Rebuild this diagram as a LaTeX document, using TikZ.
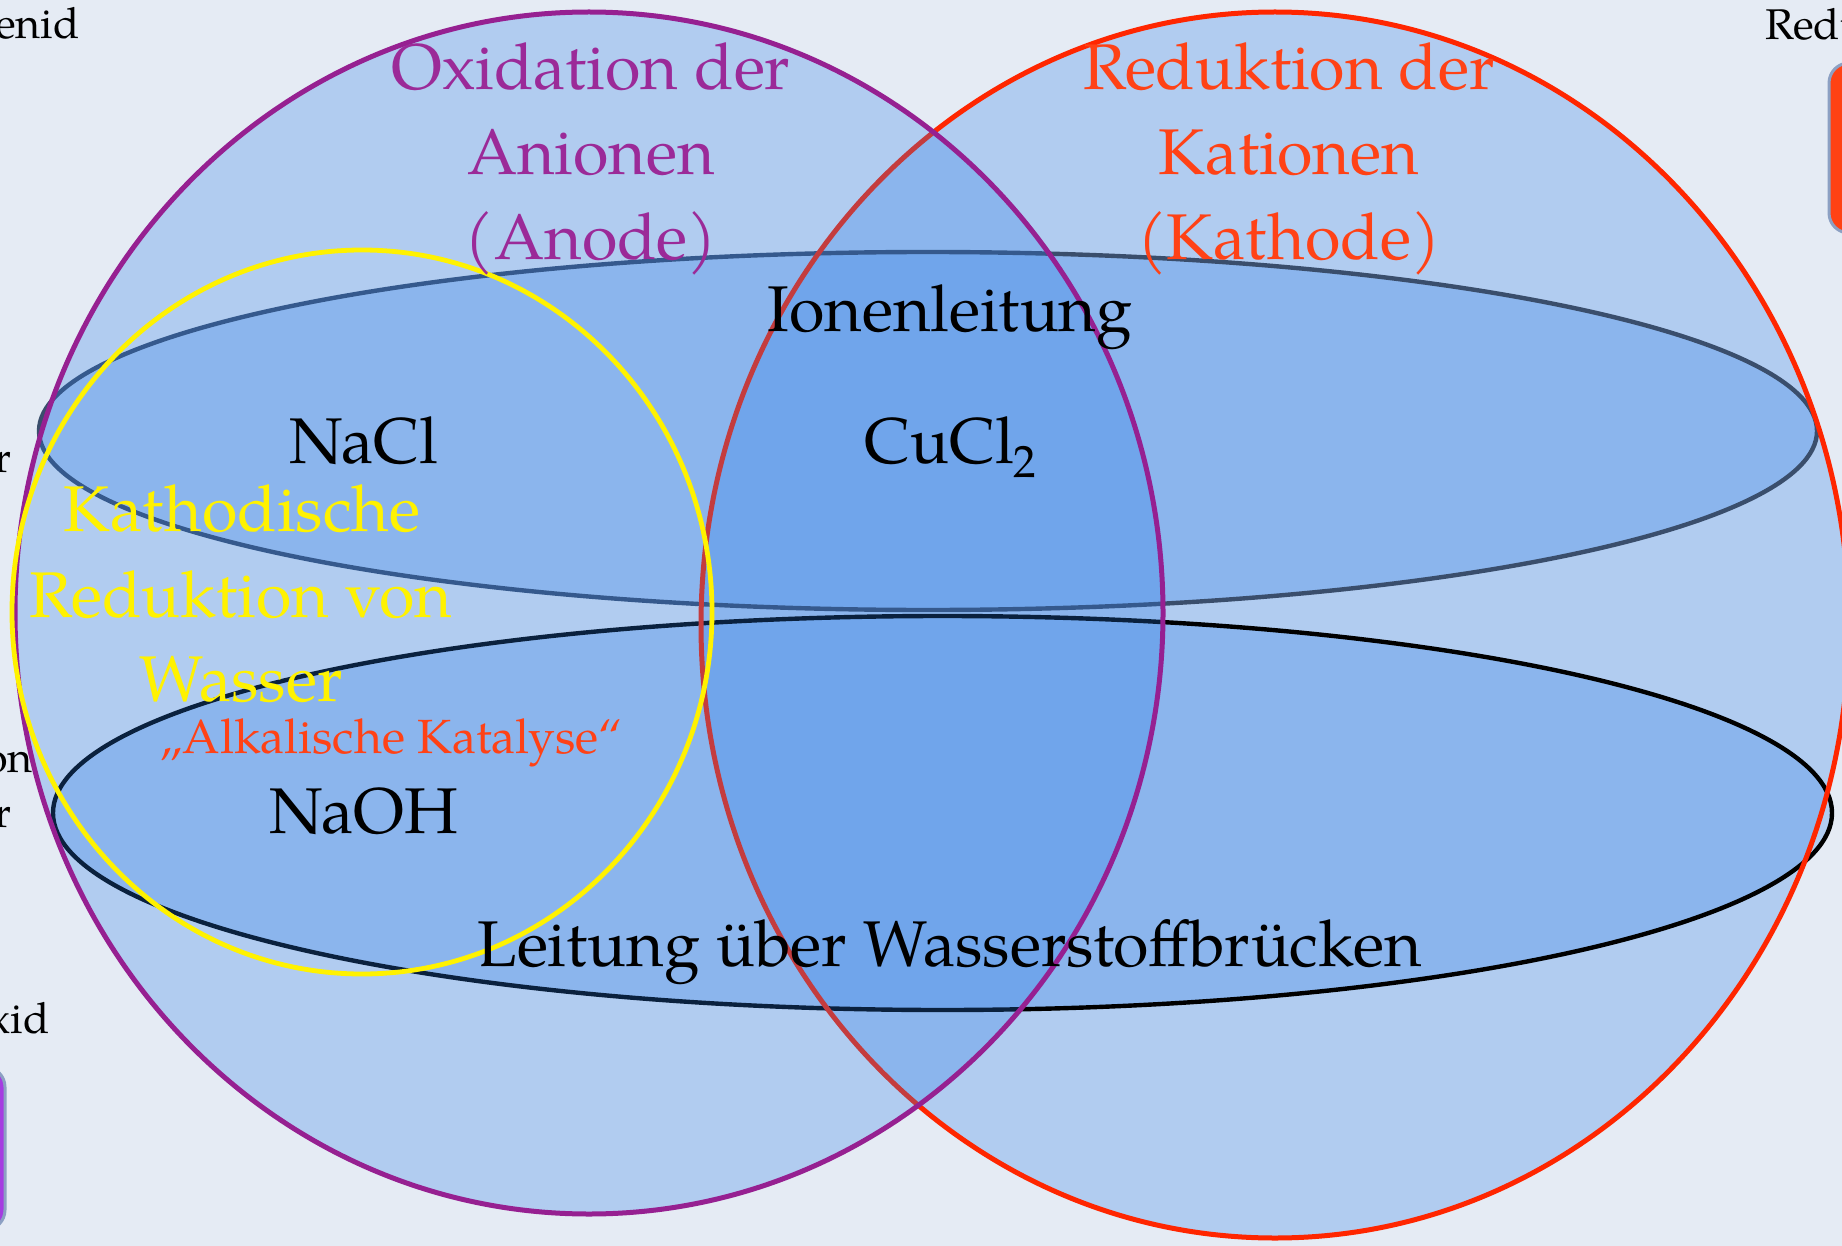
\documentclass[tikz,border=0pt]{standalone}
\usepackage{fontspec}
\setmainfont{TeX Gyre Pagella}
\definecolor{bgcol}{RGB}{229,235,244}
\definecolor{blobcol}{RGB}{40,122,230}
\definecolor{purplecol}{RGB}{150,32,145}
\definecolor{purpletext}{RGB}{155,42,152}
\definecolor{redcol}{RGB}{255,38,0}
\definecolor{redtext}{RGB}{255,66,22}
\definecolor{ionline}{RGB}{58,78,108}
\definecolor{boxedge}{RGB}{140,160,195}
\definecolor{boxred}{RGB}{255,66,20}
\definecolor{boxpurple}{RGB}{165,60,225}
\newcommand\fBig{\fontsize{32.3}{42.5}\selectfont}
\newcommand\fMid{\fontsize{24}{30}\selectfont}
\newcommand\fSide{\fontsize{21.5}{26}\selectfont}
\tikzset{
  blob/.style={fill=blobcol, fill opacity=0.27},
  bigtext/.style={anchor=base, inner sep=0pt, font=\fBig},
  sidetext/.style={inner sep=0pt, font=\fSide, text=black},
  sidebox/.style={draw=boxedge, line width=1.5pt, rounded corners=10pt}
}
\begin{document}
\begin{tikzpicture}[x=0.5pt,y=-0.5pt]
\useasboundingbox (0,0) rectangle (1842,1246);
\clip (0,0) rectangle (1842,1246);
\fill[bgcol] (0,0) rectangle (1842,1246);

% red circle fill
\fill[blob] (1275,625) ellipse [x radius=574, y radius=613];
% ellipses
\filldraw[blob, draw=ionline, draw opacity=1, line width=2.2pt] (928,431) ellipse [x radius=889, y radius=179];
\filldraw[blob, draw=black, draw opacity=1, line width=2.2pt] (942.5,813) ellipse [x radius=889.5, y radius=197];
% red circle stroke
\draw[redcol, line width=2.5pt] (1275,625) ellipse [x radius=574, y radius=613];
% purple circle
\fill[blob] (589,613) ellipse [x radius=574, y radius=601];
\draw[purplecol, line width=2.5pt] (589,613) ellipse [x radius=574, y radius=601];
% yellow circle
\draw[yellow, line width=2.4pt] (362,612) ellipse [x radius=350, y radius=362];

% side boxes
\draw[sidebox, fill=boxred] (1829,63) rectangle (1900,233);
\draw[sidebox, fill=boxpurple] (-60,1067) rectangle (5,1230);

% side text fragments
\node[sidetext, anchor=base east] (s1) at (80,39) {enid};
\node[sidetext, anchor=base west] (s2) at (1765,40) {Redu};
\node[sidetext, anchor=base east] (s3) at (12,472) {r};
\node[sidetext, anchor=base east] (s4) at (33,772) {on};
\node[sidetext, anchor=base east] (s5) at (12,827) {r};
\node[sidetext, anchor=base east] (s6) at (50,1033) {xid};

% headings
\node[bigtext, text=purpletext] (ox1) at (591,90) {Oxidation der};
\node[bigtext, text=purpletext] (ox2) at (591,175) {Anionen};
\node[bigtext, text=purpletext] (ox3) at (591,260) {(Anode)};
\node[bigtext, text=redtext] (re1) at (1289,90) {Reduktion der};
\node[bigtext, text=redtext] (re2) at (1289,175) {Kationen};
\node[bigtext, text=redtext] (re3) at (1289,260) {(Kathode)};

\node[bigtext] (ion) at (950,331) {Ionenleitung};
\node[bigtext] (nacl) at (364,463) {NaCl};
\node[bigtext] (cucl) at (951,463) {CuCl\textsubscript{2}};
\node[bigtext, text=yellow] (ka1) at (242,531) {Kathodische};
\node[bigtext, text=yellow] (ka2) at (241,617) {Reduktion von};
\node[bigtext, text=yellow] (ka3) at (241,701) {Wasser};
\node[anchor=base, inner sep=0pt, font=\fMid, text=redtext] (alk) at (391,753) {„Alkalische Katalyse“};
\node[bigtext] (naoh) at (364,833) {NaOH};
\node[bigtext] (hb) at (950,966) {Leitung über Wasserstoffbrücken};
\end{tikzpicture}
\end{document}
